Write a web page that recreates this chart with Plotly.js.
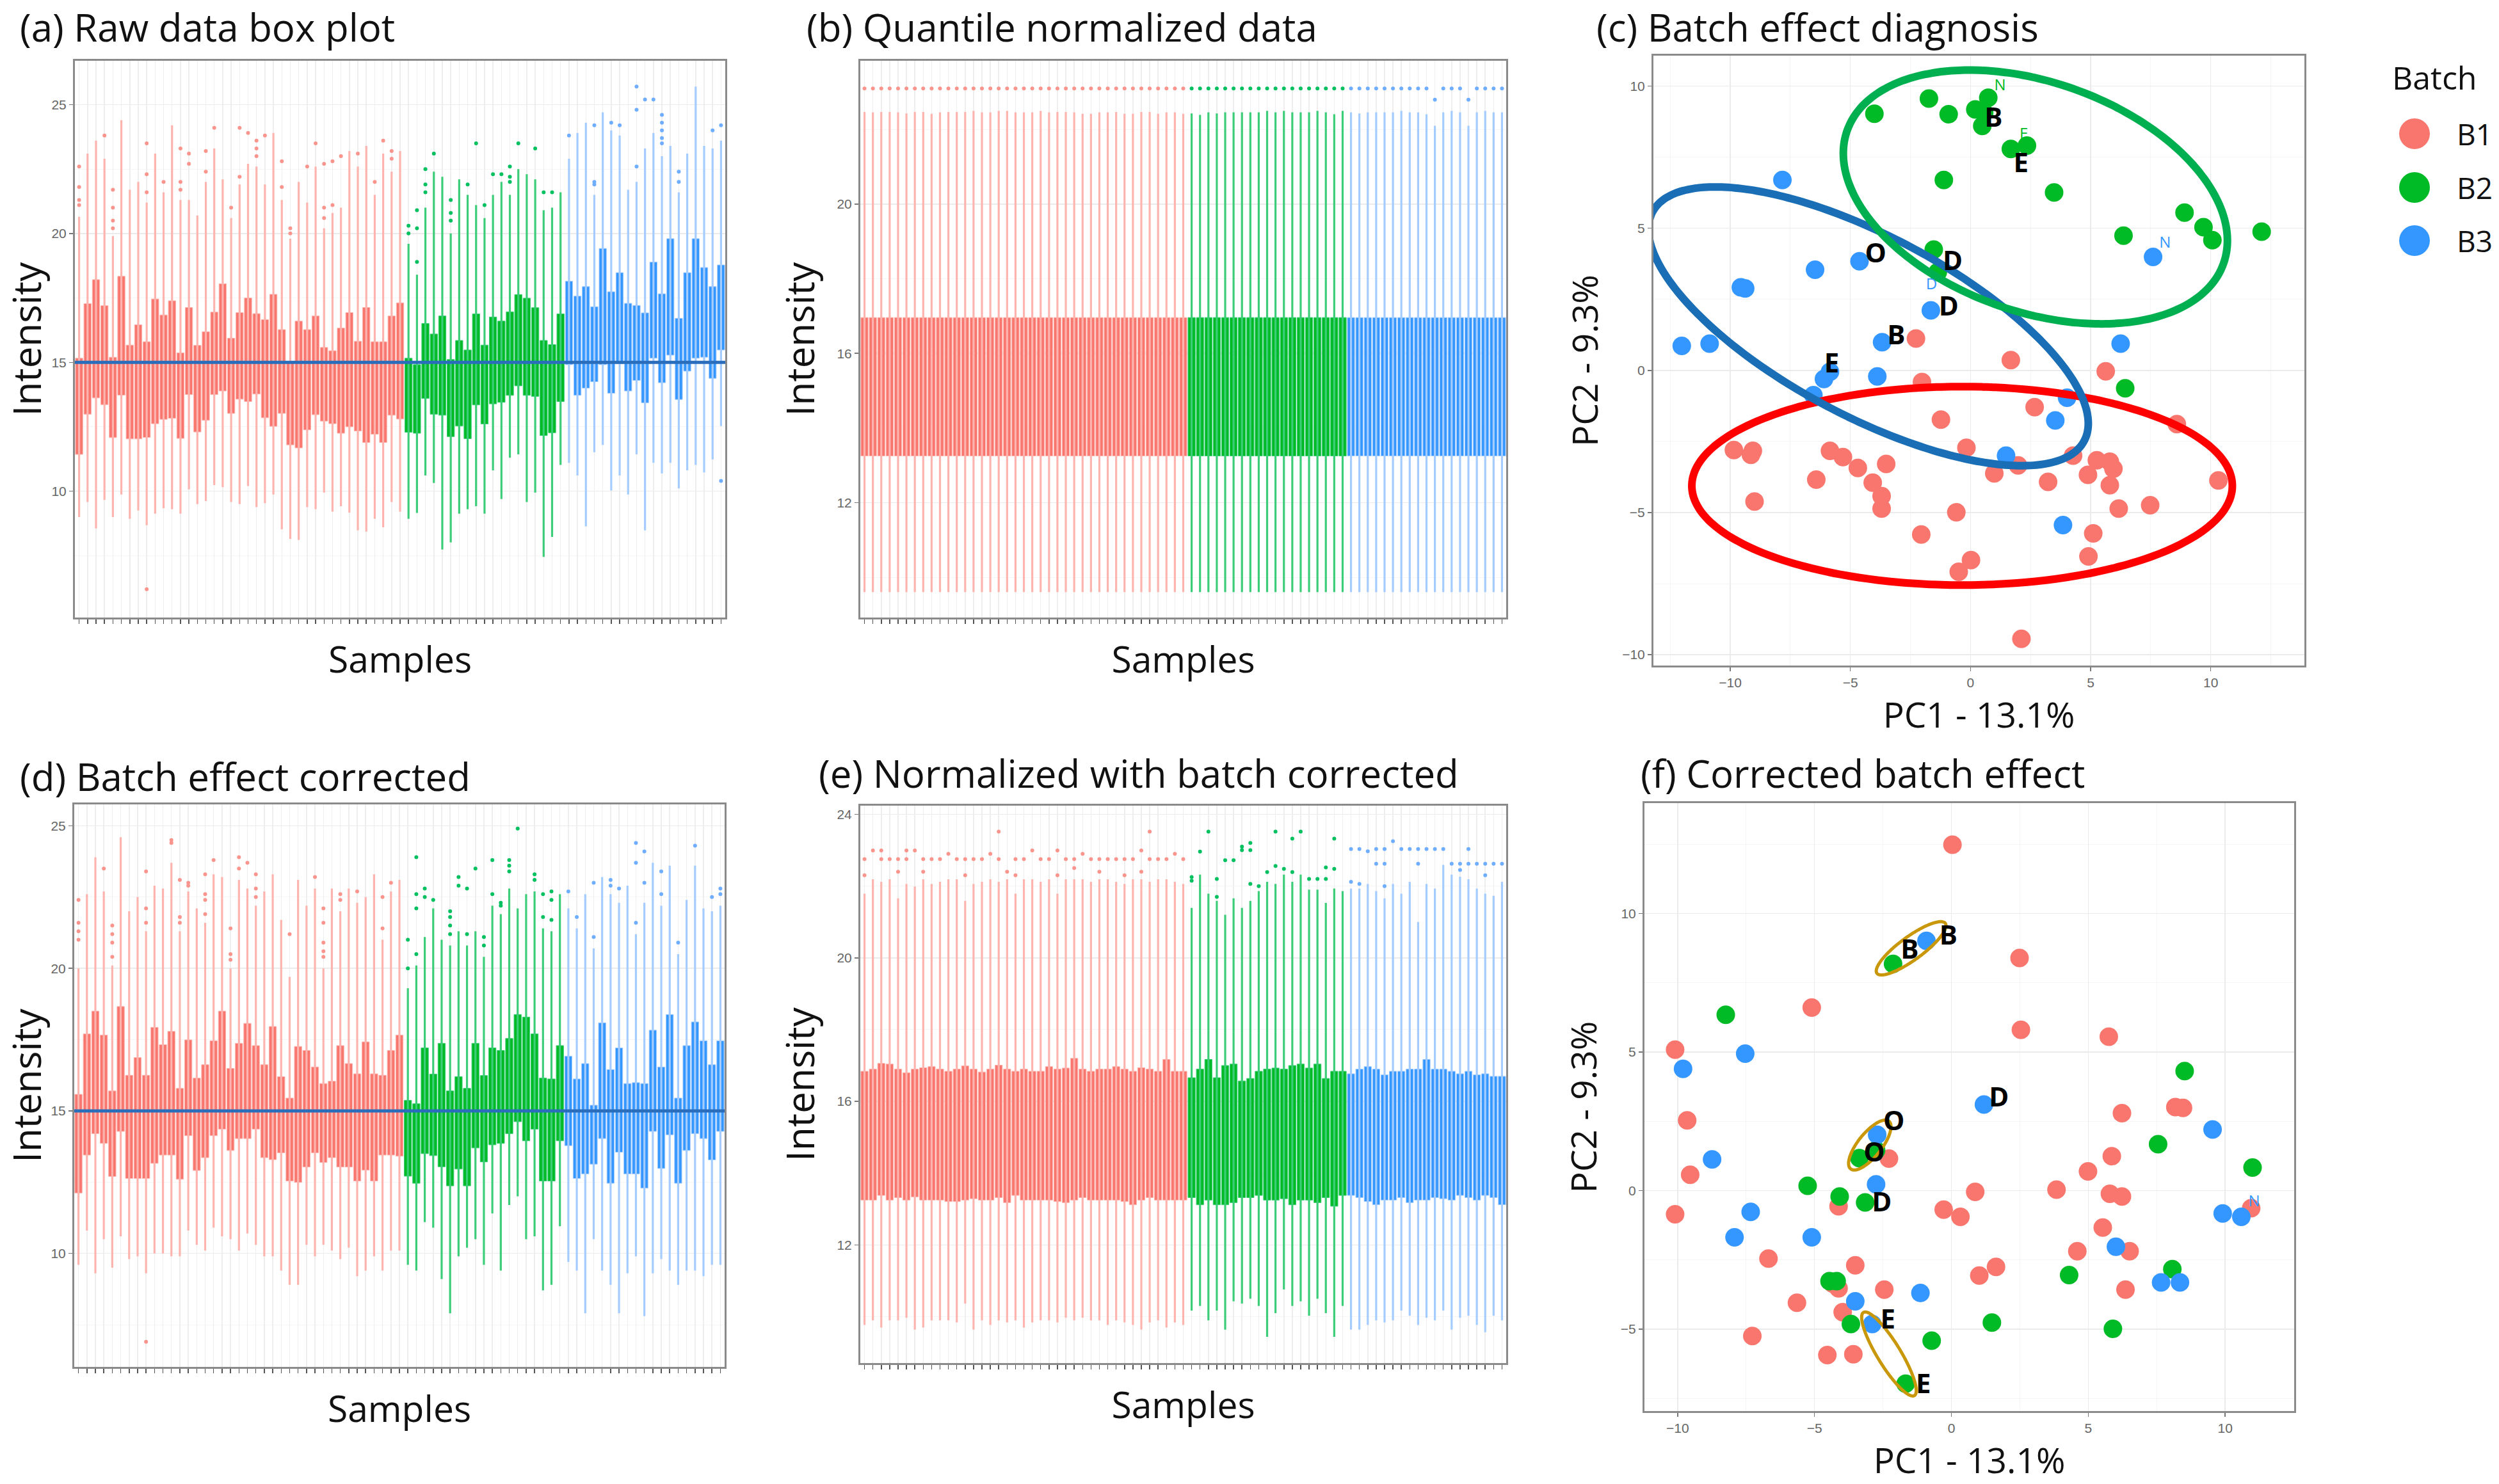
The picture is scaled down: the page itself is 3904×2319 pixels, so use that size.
<!DOCTYPE html>
<html><head><meta charset="utf-8">
<script src="https://cdn.plot.ly/plotly-3.0.1.min.js"></script>
<style>html,body{margin:0;padding:0;background:#fff}#chart{width:3904px;height:2319px}</style>
</head><body><div id="chart"></div>
<script>
// ---------- categories ----------
const batches = ['B1','B2','B3'];
const batchSizes = [39,19,19];
const batchFill = ['#F8766D','#00BA26','#3497FF'];
const whiskerCol = ['#FDB4AE','#3CCD78','#A4CCFF'];
const outlierCol = ['#F9958D','#00C060','#6FAEFF'];

// ---------- (a) raw data box plot ----------
const aQ1 = [11.43,12.99,13.62,13.36,12.08,13.73,12.03,12.03,12.09,12.62,12.79,12.83,12.05,13.75,12.30,12.75,13.75,13.89,13.02,13.57,13.48,13.77,12.85,12.52,13.02,11.80,11.68,12.38,12.97,12.72,12.62,12.25,12.50,12.34,11.89,12.21,11.89,12.95,12.80,
12.29,12.25,13.60,12.99,12.95,12.12,12.53,12.04,13.35,12.61,13.39,13.45,13.72,14.09,13.72,13.68,12.16,12.27,13.48,
14.91,13.72,14.00,14.25,14.91,13.80,14.95,13.89,14.30,13.43,15.16,14.21,15.28,13.56,14.66,15.16,15.20,14.38,15.48];
const aQ3 = [15.16,17.28,18.21,17.20,15.20,18.34,15.67,16.46,15.80,17.46,16.84,17.39,15.37,17.13,15.66,16.19,16.95,18.05,15.94,16.93,17.50,16.89,16.66,17.64,16.27,15.04,16.60,16.27,16.80,15.58,15.45,16.33,16.93,15.82,17.13,15.80,15.80,16.80,17.31,
15.16,14.91,16.51,16.10,16.80,15.11,15.85,15.48,16.88,15.67,16.76,16.60,16.96,17.63,17.49,17.12,15.85,15.69,16.88,
18.15,17.57,17.94,17.16,19.42,17.74,18.48,17.29,17.21,16.92,18.89,17.66,19.80,16.71,18.48,19.80,18.68,17.94,18.78];
const aLo = [9.00,9.58,8.56,9.66,9.00,9.87,8.93,9.25,8.68,9.13,9.34,9.30,9.13,10.07,9.50,9.62,10.24,10.16,9.58,9.50,10.20,9.38,9.54,9.87,8.52,8.15,8.11,9.38,9.30,9.95,9.21,9.42,9.17,8.48,8.43,8.93,8.60,9.58,9.21,
8.93,9.16,10.61,10.32,7.74,8.02,9.13,9.30,9.42,9.13,10.81,9.70,11.30,11.43,9.58,9.95,7.45,8.23,11.02,
11.10,10.61,8.64,11.51,11.80,10.03,10.61,9.87,11.43,8.48,11.10,10.69,11.10,10.11,10.81,11.02,10.73,11.23,12.53];
const aHi = [20.65,23.1,23.6,22.9,19.9,24.4,21.7,22.0,21.2,23.1,21.6,24.2,21.3,21.3,20.7,22.0,23.3,22.1,20.6,21.9,22.7,22.6,21.9,23.9,21.3,19.8,22.0,21.2,22.6,20.2,20.8,21.0,23.2,22.6,23.4,21.5,23.1,22.4,23.2,
19.6,18.4,21.0,22.4,22.2,20.0,22.1,21.5,21.1,20.6,21.5,22.0,21.5,22.5,22.3,22.1,20.9,21.0,21.6,
22.9,23.9,24.3,21.5,24.7,24.0,23.8,21.7,22.0,23.3,23.9,23.0,23.4,21.6,23.1,25.7,23.4,23.3,23.6];
const aOutSample = [1,1,1,1,4,5,5,5,5,9,9,9,9,11,13,13,13,14,14,16,16,17,19,20,20,21,22,22,22,23,25,25,26,26,28,29,30,30,30,31,31,32,34,36,37,38,38,
40,40,41,41,41,42,42,42,43,45,45,45,47,48,49,50,51,52,52,52,53,55,56,57,
59,62,62,62,64,65,67,67,67,68,69,70,70,70,70,70,72,72,76,77,77];
const aOutValue = [22.6,21.8,21.3,21.1,23.8,21.7,21.0,20.5,20.2,23.5,22.3,21.6,6.2,22.0,23.3,22.0,21.7,23.1,22.7,23.2,22.4,24.1,21.0,24.1,22.2,23.9,23.6,23.3,23.0,23.8,22.8,21.8,20.2,20.0,22.6,23.5,22.7,21.0,20.6,22.8,21.1,23.0,23.1,22.0,23.6,23.2,22.9,
20.3,20.0,18.9,20.2,20.9,22.5,21.9,21.6,23.1,21.3,20.8,20.5,21.9,23.5,21.1,22.3,22.3,22.6,22.2,22.0,23.5,23.3,21.6,21.6,
23.8,24.2,22.0,21.9,24.3,24.2,25.7,24.8,22.6,25.2,25.2,24.6,24.3,24.0,23.7,23.5,22.4,22.0,24.0,24.2,10.4];
const aOverallMedian = 15.0;

// ---------- (b) quantile normalized ----------
const bQ1 = [13.25,13.25,13.25,13.25,13.25,13.25,13.25,13.25,13.25,13.25,13.25,13.25,13.25,13.25,13.25,13.25,13.25,13.25,13.25,13.25,13.25,13.25,13.25,13.25,13.25,13.25,13.25,13.25,13.25,13.25,13.25,13.25,13.25,13.25,13.25,13.25,13.25,13.25,13.25,
13.25,13.25,13.25,13.25,13.25,13.25,13.25,13.25,13.25,13.25,13.25,13.25,13.25,13.25,13.25,13.25,13.25,13.25,13.25,
13.25,13.25,13.25,13.25,13.25,13.25,13.25,13.25,13.25,13.25,13.25,13.25,13.25,13.25,13.25,13.25,13.25,13.25,13.25];
const bQ3 = [16.96,16.96,16.96,16.96,16.96,16.96,16.96,16.96,16.96,16.96,16.96,16.96,16.96,16.96,16.96,16.96,16.96,16.96,16.96,16.96,16.96,16.96,16.96,16.96,16.96,16.96,16.96,16.96,16.96,16.96,16.96,16.96,16.96,16.96,16.96,16.96,16.96,16.96,16.96,
16.96,16.96,16.96,16.96,16.96,16.96,16.96,16.96,16.96,16.96,16.96,16.96,16.96,16.96,16.96,16.96,16.96,16.96,16.96,
16.96,16.96,16.96,16.96,16.96,16.96,16.96,16.96,16.96,16.96,16.96,16.96,16.96,16.96,16.96,16.96,16.96,16.96,16.96];
const bLo = [9.60,9.60,9.60,9.60,9.60,9.60,9.60,9.60,9.60,9.60,9.60,9.60,9.60,9.60,9.60,9.60,9.60,9.60,9.60,9.60,9.60,9.60,9.60,9.60,9.60,9.60,9.60,9.60,9.60,9.60,9.60,9.60,9.60,9.60,9.60,9.60,9.60,9.60,9.60,
9.60,9.60,9.60,9.60,9.60,9.60,9.60,9.60,9.60,9.60,9.60,9.60,9.60,9.60,9.60,9.60,9.60,9.60,9.60,
9.60,9.60,9.60,9.60,9.60,9.60,9.60,9.60,9.60,9.60,9.60,9.60,9.60,9.60,9.60,9.60,9.60,9.60,9.60];
const bHi = [22.47,22.46,22.47,22.47,22.46,22.43,22.47,22.47,22.42,22.46,22.47,22.47,22.47,22.50,22.46,22.46,22.50,22.50,22.46,22.46,22.46,22.50,22.46,22.47,22.47,22.46,22.42,22.42,22.46,22.46,22.47,22.42,22.42,22.47,22.47,22.42,22.46,22.46,22.42,
22.43,22.39,22.46,22.43,22.46,22.46,22.46,22.46,22.46,22.50,22.46,22.50,22.46,22.46,22.46,22.50,22.46,22.41,22.50,
22.46,22.43,22.46,22.46,22.46,22.46,22.50,22.46,22.46,22.41,22.10,22.46,22.50,22.46,22.10,22.46,22.50,22.46,22.46];
const bOutValue = [23.10,23.10,23.10,23.10,23.10,23.10,23.10,23.10,23.10,23.10,23.10,23.10,23.10,23.10,23.10,23.10,23.10,23.10,23.10,23.10,23.10,23.10,23.10,23.10,23.10,23.10,23.10,23.10,23.10,23.10,23.10,23.10,23.10,23.10,23.10,23.10,23.10,23.10,23.10,
23.10,23.10,23.10,23.10,23.10,23.10,23.10,23.10,23.10,23.10,23.10,23.10,23.10,23.10,23.10,23.10,23.10,23.10,23.10,
23.10,23.10,23.10,23.10,23.10,23.10,23.10,23.10,23.10,23.10,22.80,23.10,23.10,23.10,22.80,23.10,23.10,23.10,23.10];

// ---------- (d) batch effect corrected ----------
const dQ1 = [12.12,13.45,14.20,13.86,12.70,14.28,12.63,12.63,12.63,13.16,13.45,13.45,12.60,14.13,12.91,13.36,14.13,14.36,13.61,14.03,14.03,14.36,13.36,13.29,13.53,12.54,12.49,13.03,13.53,13.19,13.36,13.03,13.03,12.54,12.92,12.54,13.45,13.45,13.41,
12.71,12.46,13.50,13.43,13.04,12.37,12.96,12.37,13.70,13.21,13.81,13.86,14.20,14.62,13.95,14.36,12.54,12.54,13.95,
13.78,12.63,12.79,13.13,14.03,12.46,13.55,12.79,12.79,12.29,14.28,12.98,14.16,12.46,13.61,14.20,14.03,13.28,14.28];
const dQ3 = [15.58,17.70,18.50,17.66,15.70,18.66,16.25,16.87,16.25,17.93,17.32,17.79,15.79,17.49,16.15,16.62,17.46,18.50,16.49,17.37,18.07,17.29,16.62,17.96,16.20,15.45,17.26,17.12,16.54,15.96,16.04,17.29,16.66,16.30,17.42,16.30,16.25,17.12,17.66,
15.37,15.25,17.21,16.29,17.37,15.70,16.20,15.79,17.37,16.24,17.21,17.12,17.54,18.38,18.29,17.70,16.15,16.12,17.29,
16.92,16.12,16.66,15.20,18.09,16.45,17.21,15.96,15.99,15.96,17.83,16.54,18.38,15.45,17.29,18.12,17.46,16.62,17.46];
const dLo = [9.6,10.8,9.3,10.5,9.5,10.6,9.8,9.9,9.3,10.0,10.0,9.9,9.9,10.8,10.3,10.1,10.9,10.6,10.5,10.1,10.7,10.3,9.9,9.9,9.4,8.9,8.9,10.3,9.9,10.3,10.1,9.8,10.2,9.2,9.4,9.9,9.4,10.1,10.1,
9.6,9.4,11.1,10.9,9.1,7.9,9.9,10.2,10.5,9.6,11.4,9.4,11.7,12.0,10.5,10.6,8.7,8.9,10.95,
9.7,9.4,7.9,10.5,9.4,8.9,7.9,9.3,9.9,7.8,9.3,9.8,9.4,8.9,9.4,9.4,9.2,9.6,9.6];
const dHi = [20.0,22.6,23.9,22.7,20.1,24.6,22.0,22.5,21.3,22.9,22.8,23.7,21.3,22.7,22.1,21.6,23.3,23.2,20.0,23.1,22.8,22.2,22.7,23.3,21.7,19.7,23.1,22.2,22.8,20.0,22.8,22.0,22.8,22.3,22.5,23.3,21.0,22.7,23.1,
19.3,20.1,21.1,22.1,21.0,20.8,21.3,20.8,21.3,20.4,22.2,21.9,22.8,22.1,22.6,22.7,21.4,21.3,22.6,
22.1,21.4,22.6,20.7,23.2,22.6,22.3,22.9,21.2,22.3,23.7,22.2,23.6,20.5,22.4,23.6,22.1,22.0,22.2];
const dOutSample = [1,1,1,1,4,5,5,5,5,9,9,9,9,12,12,13,13,13,14,14,16,16,16,16,17,19,19,19,20,20,21,22,22,22,26,29,30,30,30,30,30,32,32,34,37,37,38,
40,40,41,41,41,41,42,42,43,45,45,45,45,46,46,47,47,48,49,49,50,50,51,51,52,52,52,53,55,55,56,56,57,57,57,
59,60,62,62,64,64,65,67,67,67,68,68,70,70,72,74,76,77,77];
const dOutValue = [22.4,21.6,21.3,21.0,23.5,21.5,21.2,20.9,20.4,23.4,22.1,21.6,6.9,24.5,24.4,23.1,21.8,21.6,23.0,22.9,23.3,22.6,22.4,21.9,23.8,21.4,20.5,20.3,23.9,23.5,23.7,23.3,22.8,22.5,21.2,23.2,22.1,21.6,20.9,20.6,20.4,22.6,22.4,22.7,22.5,21.4,23.0,
21.0,20.0,23.9,22.6,22.1,20.5,22.8,22.5,22.4,22.0,21.8,21.5,21.2,23.2,22.9,22.8,21.2,23.5,21.1,20.8,23.8,22.6,22.3,22.2,23.8,23.6,23.4,24.9,23.3,23.1,22.6,21.8,22.7,22.4,21.7,
22.7,21.8,23.0,21.1,23.1,22.9,22.8,24.4,23.7,21.6,24.1,23.0,23.4,22.6,20.9,24.3,22.5,22.8,22.6];
const dOverallMedian = 15.0;

// ---------- (e) normalized with batch corrected ----------
const eQ1 = [13.25,13.25,13.38,13.25,13.32,13.25,13.34,13.25,13.25,13.25,13.21,13.21,13.25,13.29,13.25,13.25,13.32,13.18,13.38,13.25,13.25,13.25,13.25,13.21,13.18,13.25,13.32,13.25,13.25,13.25,13.25,13.21,13.12,13.25,13.32,13.25,13.25,13.25,13.25,
13.32,13.12,13.25,13.12,13.12,13.18,13.32,13.32,13.38,13.25,13.25,13.29,13.12,13.25,13.25,13.18,13.32,13.08,13.38,
13.38,13.32,13.21,13.12,13.25,13.25,13.32,13.18,13.25,13.25,13.32,13.29,13.25,13.38,13.32,13.25,13.38,13.32,13.12];
const eQ3 = [16.84,16.90,17.06,17.04,16.90,16.80,16.90,16.94,16.97,16.90,16.84,16.90,16.99,16.90,16.82,16.90,17.01,16.90,16.84,16.90,16.84,16.84,16.97,16.90,16.93,17.20,16.90,16.84,16.90,16.90,16.97,16.90,16.84,16.94,16.90,16.84,17.17,16.84,16.84,
16.66,16.90,17.17,16.66,17.00,17.04,16.57,16.64,16.84,16.90,16.93,16.90,17.00,17.04,16.93,17.04,16.64,16.84,16.84,
16.77,16.90,16.97,16.90,16.74,16.84,16.84,16.90,16.90,17.17,16.90,16.90,16.84,16.77,16.84,16.74,16.77,16.70,16.70];
const eLo = [9.77,9.90,9.70,9.90,9.90,9.97,9.64,9.70,9.90,9.90,9.90,9.84,10.37,9.64,9.90,9.77,9.90,9.84,9.90,9.70,9.84,9.90,9.90,9.84,9.97,9.90,9.97,9.90,9.90,9.77,9.90,9.84,9.77,9.64,9.84,9.90,9.70,9.84,9.77,
10.17,10.30,9.90,10.17,9.64,10.43,10.37,10.50,10.30,9.44,10.10,10.76,10.30,10.43,10.03,10.50,10.10,9.44,10.30,
9.64,9.64,9.77,9.90,9.84,9.90,10.17,10.03,9.77,9.97,9.90,10.17,9.64,9.97,10.03,9.77,9.57,10.03,9.90];
const eHi = [21.79,22.19,22.12,22.19,21.66,22.06,21.99,22.19,22.06,22.12,22.19,22.19,21.59,22.06,22.12,22.19,22.12,22.19,21.79,22.19,22.19,22.12,22.19,21.79,22.19,22.19,22.19,22.12,22.19,22.19,22.12,22.06,22.19,22.19,22.12,22.19,22.19,22.12,22.06,
21.39,22.32,21.79,21.59,21.20,21.66,21.39,21.59,21.86,22.12,22.06,22.32,22.12,22.32,21.90,21.90,21.53,21.93,21.86,
21.93,21.93,22.06,21.86,21.66,22.06,21.79,22.12,21.00,22.06,21.93,22.59,22.32,22.26,22.19,21.93,21.79,21.73,22.12];
const eOutSample = [1,1,2,3,3,4,5,5,6,6,7,8,8,9,10,11,12,13,13,14,15,16,17,17,18,19,19,20,21,22,23,24,24,25,26,26,27,28,29,29,30,31,32,32,33,34,34,35,35,36,37,38,39,
40,40,41,42,43,43,44,45,46,46,47,47,47,48,49,50,50,51,52,52,53,54,55,56,56,57,57,
59,59,60,60,61,62,62,63,63,63,64,65,66,67,67,68,69,70,71,72,72,73,73,74,75,75,76,77];
const eOutValue = [22.75,22.3,22.99,22.99,22.75,22.75,22.75,22.4,22.99,22.75,22.99,22.75,22.4,22.75,22.75,22.9,22.75,22.75,22.3,22.75,22.75,22.9,23.52,22.75,22.4,22.75,22.3,22.75,22.99,22.75,22.75,22.99,22.3,22.75,22.75,22.5,22.9,22.75,22.75,22.4,22.75,22.75,22.75,22.3,22.75,22.99,22.4,23.52,22.75,22.75,22.75,22.9,22.75,
22.25,22.15,22.96,23.52,22.2,21.7,22.72,22.72,23.1,23.0,23.2,23.0,22.06,22.0,22.39,23.52,22.56,22.48,23.32,22.39,23.52,22.2,22.2,22.52,22.2,23.32,22.48,
23.03,22.12,23.03,22.06,22.97,23.03,22.62,23.03,22.62,22.0,23.25,23.03,23.03,23.03,22.62,23.03,23.03,23.03,22.62,22.62,22.45,23.03,22.62,22.62,22.62,22.3,22.62,22.62];

// ---------- (c) PCA before correction ----------
const cB1x = [-2.27,1.68,5.63,-2.02,2.67,-1.23,8.59,-9.85,-9.06,-9.14,-5.85,-5.31,-4.69,-3.51,-0.17,1.98,4.27,5.26,5.80,5.95,0.99,3.23,4.89,5.80,-6.42,-4.07,-3.70,-3.70,-8.99,-0.59,6.17,7.48,10.32,-2.05,5.11,4.91,0.02,-0.49,2.12];
const cB1y = [1.12,0.36,-0.03,-0.41,-1.29,-1.73,-1.89,-2.80,-2.83,-2.97,-2.83,-3.05,-3.43,-3.29,-2.72,-3.34,-3.00,-3.16,-3.21,-3.46,-3.62,-3.92,-3.67,-4.04,-3.84,-3.95,-4.42,-4.86,-4.61,-4.99,-4.86,-4.74,-3.87,-5.77,-5.73,-6.54,-6.67,-7.08,-9.44];
const cB2x = [-4.00,-1.73,-0.91,0.20,0.49,0.74,1.68,2.35,-1.11,3.48,8.91,9.70,10.07,12.12,6.37,-1.53,-1.36,6.44,0.57];
const cB2y = [9.03,9.56,9.01,9.18,8.60,9.59,7.79,7.91,6.70,6.26,5.55,5.04,4.58,4.88,4.74,4.25,3.46,-0.63,9.06];
const cB3x = [-7.83,-4.62,-6.47,-9.56,-9.38,-1.65,-3.68,-12.02,-10.86,-6.10,-5.85,-3.88,-6.54,7.60,6.25,4.02,3.53,1.48,3.85];
const cB3y = [6.70,3.84,3.54,2.92,2.88,2.11,0.99,0.86,0.94,-0.30,-0.05,-0.21,-0.87,3.99,0.94,-0.96,-1.76,-3.00,-5.44];
const cLabelText = ['B','E','O','D','D','B','E'];
const cLabelX = [0.96,2.10,-3.95,-0.74,-0.91,-3.09,-5.78];
const cLabelY = [8.81,7.22,4.04,3.76,2.17,1.15,0.16];
const cTagText = ['N','E','N','D'];
const cTagX = [1.23,2.22,8.10,-1.62];
const cTagY = [10.0,8.29,4.45,3.00];
const cTagBatch = [1,1,2,2];
const cEllCenter = [[-0.35,-4.06],[-4.25,1.55],[2.70,6.10]];
const cEllU = [[11.25,0],[8.77,-4.28],[7.45,-2.95]];
const cEllV = [[0,3.49],[-2.62,-2.39],[-2.90,-3.35]];
const cEllColor = ['#FF0000','#1A6EB5','#00B050'];

// ---------- (f) PCA after correction ----------
const fB1x = [0.04,2.49,-5.10,2.54,5.75,-10.09,-9.65,-9.54,-10.09,6.23,8.18,8.46,5.86,4.99,-2.28,3.84,0.87,5.79,6.23,-0.28,0.33,-4.12,10.95,5.53,-6.68,4.60,6.51,-3.51,1.02,1.63,-4.12,-2.45,6.36,-5.64,-3.97,-7.27,-4.53,-3.58,-4.34];
const fB1y = [12.48,8.39,6.60,5.80,5.55,5.08,2.53,0.57,-0.86,2.79,3.01,2.98,1.24,0.69,1.15,0.03,-0.05,-0.12,-0.22,-0.69,-0.95,-0.57,-0.64,-1.34,-2.46,-2.19,-2.19,-2.70,-3.07,-2.76,-3.53,-3.58,-3.58,-4.05,-4.39,-5.25,-5.94,-5.91,-3.36];
const fB2x = [-8.24,-2.13,8.52,7.55,11.00,-3.36,-5.25,-4.08,-3.15,-4.45,-4.19,-3.67,-0.72,-1.67,1.48,4.30,5.90,8.07,-2.75];
const fB2y = [6.34,8.18,4.31,1.67,0.83,1.17,0.17,-0.22,-0.43,-3.27,-3.27,-4.82,-5.42,-6.97,-4.77,-3.05,-4.99,-2.84,1.45];
const fB3x = [-0.91,-9.80,-7.53,-8.74,-7.33,-7.92,-5.10,-2.71,-2.75,1.19,9.54,9.91,10.59,6.01,7.66,8.35,-1.13,-3.51,-2.89];
const fB3y = [9.01,4.39,4.94,1.12,-0.77,-1.69,-1.69,2.01,0.22,3.10,2.20,-0.83,-0.95,-2.03,-3.32,-3.32,-3.70,-4.00,-4.82];
const fLabelText = ['B','B','D','O','O','D','E','E'];
const fLabelX = [-1.52,-0.11,1.74,-2.10,-2.82,-2.54,-2.32,-1.02];
const fLabelY = [8.61,9.13,3.27,2.41,1.29,-0.52,-4.74,-7.06];
const fTagText = ['N'];
const fTagX = [11.06];
const fTagY = [-0.43];
const fTagBatch = [2];
const fEllCenter = [[-1.47,8.74],[-2.98,1.64],[-2.28,-5.90]];
const fEllU = [[1.25,0.90],[0.70,0.86],[0.93,-1.50]];
const fEllV = [[0.245,-0.34],[0.33,-0.27],[0.36,0.22]];
const fEllColor = '#C9980A';

// ---------- helpers ----------
const F = 'Open Sans, Noto Sans, sans-serif';
const TF = 'Liberation Sans, Arial, sans-serif';
function batchOf(s){ return s <= batchSizes[0] ? 0 : (s <= batchSizes[0]+batchSizes[1] ? 1 : 2); }

function boxPanel(xa, ya, q1, q3, lo, hi, outS, outV){
  const tr = [];
  let start = 0;
  for (let b = 0; b < 3; b++){
    const xs=[], base=[], h=[], wx=[], wy=[];
    for (let i = start; i < start + batchSizes[b]; i++){
      const s = i + 1;
      xs.push(s); base.push(q1[i]); h.push(q3[i] - q1[i]);
      wx.push(s, s, null); wy.push(lo[i], hi[i], null);
    }
    tr.push({type:'scatter', mode:'lines', x:wx, y:wy, xaxis:xa, yaxis:ya,
      line:{color:whiskerCol[b], width:3.2}, hoverinfo:'skip', showlegend:false});
    tr.push({type:'bar', x:xs, y:h, base:base, width:0.86, xaxis:xa, yaxis:ya, name:batches[b],
      marker:{color:batchFill[b], line:{color:whiskerCol[b], width:1}}, showlegend:false});
    const ox=[], oy=[];
    outS.forEach((s,j)=>{ if (batchOf(s) === b){ ox.push(s); oy.push(outV[j]); } });
    tr.push({type:'scatter', mode:'markers', x:ox, y:oy, xaxis:xa, yaxis:ya,
      marker:{color:outlierCol[b], size:6}, hoverinfo:'skip', showlegend:false});
    start += batchSizes[b];
  }
  return tr;
}
function ellipse(c, u, v){
  const xs=[], ys=[];
  for (let k = 0; k <= 160; k++){
    const t = 2*Math.PI*k/160;
    xs.push(c[0] + u[0]*Math.cos(t) + v[0]*Math.sin(t));
    ys.push(c[1] + u[1]*Math.cos(t) + v[1]*Math.sin(t));
  }
  return {xs, ys};
}
function pcaPanel(xa, ya, pts, lbl, tag, ell, ellColors, ellWidth){
  const tr = [];
  pts.forEach((p,b)=>{
    tr.push({type:'scatter', mode:'markers', x:p[0], y:p[1], xaxis:xa, yaxis:ya, name:batches[b],
      marker:{color:batchFill[b], size:29}, showlegend:false});
  });
  ell.c.forEach((c,k)=>{
    const e = ellipse(c, ell.u[k], ell.v[k]);
    tr.push({type:'scatter', mode:'lines', x:e.xs, y:e.ys, xaxis:xa, yaxis:ya,
      line:{color: Array.isArray(ellColors) ? ellColors[k] : ellColors, width:ellWidth, shape:'spline'},
      hoverinfo:'skip', showlegend:false});
  });
  tr.push({type:'scatter', mode:'text', x:tag.x, y:tag.y, text:tag.t, xaxis:xa, yaxis:ya,
    textfont:{family:F, size:24, color:tag.b.map(b=>batchFill[b])}, showlegend:false, hoverinfo:'skip'});
  tr.push({type:'scatter', mode:'text', x:lbl.x, y:lbl.y, text:lbl.t, xaxis:xa, yaxis:ya,
    textfont:{family:F, size:42, color:'#000', weight:700}, showlegend:false, hoverinfo:'skip'});
  return tr;
}

// ---------- traces ----------
let data = [];
data = data.concat(boxPanel('x','y', aQ1, aQ3, aLo, aHi, aOutSample, aOutValue));
const bOutSample = bOutValue.map((v,i)=>i+1);
data = data.concat(boxPanel('x2','y2', bQ1, bQ3, bLo, bHi, bOutSample, bOutValue));
data = data.concat(pcaPanel('x3','y3', [[cB1x,cB1y],[cB2x,cB2y],[cB3x,cB3y]],
  {x:cLabelX, y:cLabelY, t:cLabelText}, {x:cTagX, y:cTagY, t:cTagText, b:cTagBatch},
  {c:cEllCenter, u:cEllU, v:cEllV}, cEllColor, 12));
data = data.concat(boxPanel('x4','y4', dQ1, dQ3, dLo, dHi, dOutSample, dOutValue));
data = data.concat(boxPanel('x5','y5', eQ1, eQ3, eLo, eHi, eOutSample, eOutValue));
data = data.concat(pcaPanel('x6','y6', [[fB1x,fB1y],[fB2x,fB2y],[fB3x,fB3y]],
  {x:fLabelX, y:fLabelY, t:fLabelText}, {x:fTagX, y:fTagY, t:fTagText, b:fTagBatch},
  {c:fEllCenter, u:fEllU, v:fEllV}, fEllColor, 5));

// ---------- axes ----------
const W = 3904, H = 2319;
const px = (a,b)=>[a/W, b/W];
const py = (top,bottom)=>[1-bottom/H, 1-top/H];
const frame = {showline:true, mirror:true, linecolor:'#8A8A8A', linewidth:3, zeroline:false};
const tickFont = {family:TF, size:21, color:'#666666'};
function boxX(domain, anchor){
  return Object.assign({domain, anchor, range:[0.5,77.5], showgrid:true, gridcolor:'#EEEEEE', gridwidth:1.5,
    tick0:1, dtick:1, ticks:'outside', ticklen:7, tickwidth:1.5, tickcolor:'#555555', showticklabels:false,
    title:{text:'Samples', font:{family:F, size:57, color:'#111111'}, standoff:38}}, frame);
}
function boxY(domain, anchor, range, dtick){
  return Object.assign({domain, anchor, range, tick0:0, dtick, showgrid:true, gridcolor:'#EBEBEB', gridwidth:1.5,
    minor:{dtick:dtick/2, showgrid:true, gridcolor:'#F5F5F5', gridwidth:1},
    ticks:'outside', ticklen:6, tickwidth:1.5, tickcolor:'#777777', tickfont:tickFont,
    title:{text:'Intensity', font:{family:F, size:60, color:'#111111'}, standoff:16}}, frame);
}
function pcX(domain, anchor, range){
  return Object.assign({domain, anchor, range, tick0:0, dtick:5, showgrid:true, gridcolor:'#EBEBEB', gridwidth:1.5,
    minor:{dtick:2.5, showgrid:true, gridcolor:'#F5F5F5', gridwidth:1},
    ticks:'outside', ticklen:6, tickwidth:1.5, tickcolor:'#777777', tickfont:tickFont,
    title:{text:'PC1 - 13.1%', font:{family:F, size:55, color:'#111111'}, standoff:12}}, frame);
}
function pcY(domain, anchor, range){
  return Object.assign({domain, anchor, range, tick0:0, dtick:5, showgrid:true, gridcolor:'#EBEBEB', gridwidth:1.5,
    minor:{dtick:2.5, showgrid:true, gridcolor:'#F5F5F5', gridwidth:1},
    ticks:'outside', ticklen:6, tickwidth:1.5, tickcolor:'#777777', tickfont:tickFont,
    title:{text:'PC2 - 9.3%', font:{family:F, size:55, color:'#111111'}, standoff:20}}, frame);
}

const panelTitles = ['(a) Raw data box plot','(b) Quantile normalized data','(c) Batch effect diagnosis',
  '(d) Batch effect corrected','(e) Normalized with batch corrected','(f) Corrected batch effect'];
const titlePos = [[29,42],[1258,42],[2492,42],[29,1213],[1277,1208],[2561,1208]];
const annotations = panelTitles.map((t,i)=>({text:t, xref:'paper', yref:'paper', x:titlePos[i][0]/W, y:1-titlePos[i][1]/H,
  xanchor:'left', yanchor:'middle', showarrow:false, font:{family:F, size:60, color:'#111111'}}));
// legend (drawn manually to match large keys)
annotations.push({text:'Batch', xref:'paper', yref:'paper', x:3735/W, y:1-121/H, xanchor:'left', yanchor:'middle',
  showarrow:false, font:{family:F, size:50, color:'#111111'}});
const legY = [209,293,376];
const shapes = [];
batches.forEach((b,i)=>{
  annotations.push({text:b, xref:'paper', yref:'paper', x:3836/W, y:1-legY[i]/H, xanchor:'left', yanchor:'middle',
    showarrow:false, font:{family:F, size:46, color:'#111111'}});
  const r = 24;
  shapes.push({type:'circle', xref:'paper', yref:'paper', x0:(3772-r)/W, x1:(3772+r)/W, y0:1-(legY[i]+r)/H, y1:1-(legY[i]-r)/H,
    fillcolor:batchFill[i], line:{width:0}});
});
shapes.push({type:'line', xref:'x domain', x0:0, x1:1, yref:'y', y0:aOverallMedian, y1:aOverallMedian, line:{color:'#2A6EBB', width:5}});
shapes.push({type:'line', xref:'x4 domain', x0:0, x1:1, yref:'y4', y0:dOverallMedian, y1:dOverallMedian, line:{color:'#2A6EBB', width:5}});

const layout = {
  width:W, height:H, margin:{l:0,r:0,t:0,b:0}, paper_bgcolor:'#ffffff', plot_bgcolor:'#ffffff',
  showlegend:false, barmode:'overlay', font:{family:F},
  xaxis:  boxX(px(117,1133),'y'),   yaxis:  boxY(py(95,965),'x',[5.1,26.7],5),
  xaxis2: boxX(px(1344,2353),'y2'), yaxis2: boxY(py(95,965),'x2',[8.92,23.84],4),
  xaxis3: pcX(px(2583,3600),'y3',[-13.2,13.9]), yaxis3: pcY(py(87,1040),'x3',[-10.38,11.07]),
  xaxis4: boxX(px(116,1132),'y4'),  yaxis4: boxY(py(1257,2136),'x4',[6.02,25.75],5),
  xaxis5: boxX(px(1344,2353),'y5'), yaxis5: boxY(py(1259,2130),'x5',[8.71,24.24],4),
  xaxis6: pcX(px(2569,3584),'y6',[-11.21,12.52]), yaxis6: pcY(py(1255,2205),'x6',[-7.96,13.98]),
  annotations, shapes
};
Plotly.newPlot('chart', data, layout, {displayModeBar:false, staticPlot:true});
</script>
</body></html>
